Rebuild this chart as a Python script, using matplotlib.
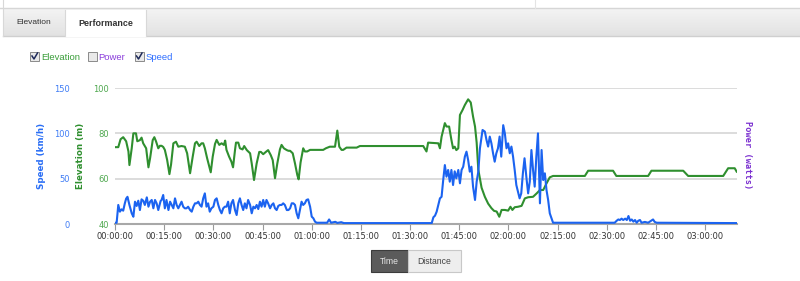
import numpy as np
import matplotlib
matplotlib.use("Agg")
import matplotlib.pyplot as plt
from matplotlib.patches import Rectangle
from matplotlib.lines import Line2D

# elevation track (minutes from start, metres)
elev_t = [0.0, 1.0, 1.7, 2.5, 3.4, 4.1, 4.4, 5.1, 5.6, 6.4,
          6.8, 7.6, 8.1, 8.6, 9.5, 10.2, 10.7, 11.5, 12.0, 12.5,
          13.2, 13.7, 14.2, 14.7, 15.2, 15.9, 16.6, 17.1, 17.8, 18.6,
          19.3, 20.3, 21.3, 22.0, 22.9, 23.7, 24.4, 24.9, 25.7, 26.4,
          26.9, 27.4, 28.1, 29.2, 29.8, 30.5, 31.0, 31.8, 32.5, 33.2,
          33.6, 34.0, 34.8, 35.5, 36.0, 36.6, 36.9, 37.6, 38.1, 38.9,
          39.4, 40.2, 41.2, 41.7, 42.4, 43.2, 44.0, 44.5, 45.2, 46.0,
          46.7, 47.5, 48.1, 48.8, 49.5, 50.3, 50.8, 51.5, 52.4, 52.9,
          53.4, 54.2, 54.9, 55.6, 56.0, 56.6, 57.4, 57.9, 58.6, 59.5,
          60.5, 63.5, 64.3, 65.5, 67.1, 67.8, 68.4, 69.1, 69.6, 70.6,
          73.7, 74.7, 94.0, 95.0, 95.5, 98.6, 99.1, 99.6, 100.6, 101.1,
          101.9, 102.6, 103.1, 103.6, 104.1, 104.7, 105.2, 106.0, 106.7, 107.7,
          108.5, 109.2, 109.8, 110.3, 110.8, 111.8, 112.8, 113.8, 114.8, 115.6,
          116.4, 117.2, 117.9, 118.9, 119.9, 120.6, 121.2, 121.9, 122.9, 124.0,
          125.0, 126.0, 127.5, 128.6, 129.6, 130.6, 131.6, 132.6, 133.6, 143.3,
          144.3, 151.9, 152.9, 162.6, 163.6, 173.3, 174.8, 185.5, 186.5, 187.0,
          189.0, 189.6]
elev_m = [73.9, 73.9, 77.4, 78.3, 76.5, 72.0, 66.0, 73.4, 80.0, 80.0,
          76.5, 77.0, 78.1, 75.6, 73.4, 65.0, 69.0, 77.0, 78.3, 76.5,
          73.4, 74.5, 74.5, 74.0, 72.7, 68.3, 62.0, 66.3, 75.6, 76.3,
          74.1, 74.4, 74.1, 71.2, 62.4, 69.7, 75.6, 76.3, 74.4, 75.6,
          75.6, 73.4, 69.0, 62.8, 69.7, 75.3, 77.1, 74.9, 75.6, 74.9,
          76.8, 72.7, 69.7, 67.5, 65.0, 72.6, 75.9, 75.9, 73.4, 72.9,
          74.4, 72.6, 71.2, 66.7, 59.4, 66.7, 71.8, 71.8, 70.8, 71.8,
          72.6, 70.4, 68.2, 60.2, 66.7, 72.9, 74.9, 73.4, 72.6, 72.3,
          72.3, 71.2, 66.7, 61.6, 59.7, 67.2, 73.4, 72.0, 72.0, 72.7,
          72.7, 72.7, 73.4, 74.1, 74.1, 81.2, 74.1, 72.7, 72.7, 73.7,
          73.7, 74.4, 74.4, 72.0, 75.9, 75.6, 73.4, 78.5, 84.5, 83.0,
          83.0, 77.1, 73.4, 74.1, 72.6, 73.4, 88.1, 90.3, 92.5, 95.0,
          93.6, 87.4, 83.0, 75.9, 64.0, 56.0, 52.0, 49.0, 47.0, 45.8,
          45.5, 43.2, 46.2, 46.2, 45.9, 47.6, 46.2, 47.4, 47.6, 48.0,
          51.3, 51.8, 52.0, 53.5, 55.0, 55.0, 57.9, 60.6, 61.2, 61.2,
          63.5, 63.5, 61.2, 61.2, 63.5, 63.5, 61.2, 61.2, 63.5, 64.6,
          64.6, 63.1]

# speed track (minutes from start, km/h)
speed_t = [0.0, 0.5, 1.0, 1.5, 2.0, 2.5, 3.0, 3.4, 3.8, 4.4,
           5.1, 5.6, 6.1, 6.6, 7.1, 7.6, 8.1, 8.6, 9.1, 9.7,
           10.2, 10.7, 11.2, 11.7, 12.2, 12.7, 13.2, 13.9, 14.2, 14.7,
           15.2, 15.7, 16.3, 16.8, 17.3, 17.8, 18.3, 18.8, 19.3, 19.8,
           20.3, 20.8, 21.3, 21.8, 22.3, 22.9, 23.4, 23.9, 24.4, 24.9,
           25.4, 25.9, 26.4, 26.9, 27.4, 27.9, 28.4, 28.9, 29.4, 30.0,
           30.5, 31.0, 31.5, 32.0, 32.5, 33.0, 33.5, 34.0, 34.5, 35.0,
           35.5, 36.0, 36.6, 37.1, 37.6, 38.1, 38.6, 39.1, 39.6, 40.1,
           40.6, 41.2, 41.7, 42.2, 42.7, 43.2, 43.7, 44.2, 44.7, 45.2,
           45.7, 46.2, 46.7, 47.3, 47.8, 48.3, 48.8, 49.3, 49.8, 50.3,
           50.8, 51.3, 51.8, 52.4, 52.9, 53.4, 53.9, 54.4, 54.9, 55.4,
           55.9, 56.4, 56.9, 57.4, 57.9, 58.4, 58.9, 59.5, 60.0, 60.5,
           61.0, 61.5, 64.7, 65.3, 65.9, 67.2, 67.8, 69.0, 69.8, 96.6,
           97.1, 97.6, 98.1, 98.6, 99.1, 99.6, 100.1, 100.6, 101.1, 101.6,
           102.1, 102.6, 103.1, 103.6, 104.1, 104.7, 105.2, 105.7, 106.2, 106.7,
           107.2, 107.7, 108.2, 108.7, 109.2, 109.8, 110.3, 110.8, 111.3, 112.1,
           112.8, 113.3, 113.8, 114.3, 114.8, 115.3, 115.8, 116.3, 116.8, 117.3,
           117.8, 118.4, 118.9, 119.4, 119.9, 120.4, 120.9, 121.4, 121.9, 122.4,
           122.9, 123.4, 123.9, 124.4, 124.9, 125.5, 126.0, 126.5, 127.0, 127.5,
           128.0, 128.5, 129.0, 129.6, 130.1, 130.6, 131.1, 131.6, 132.1, 132.6,
           133.6, 152.4, 153.0, 153.5, 154.0, 154.5, 155.0, 155.6, 156.1, 156.6,
           157.1, 157.6, 158.1, 158.6, 159.1, 159.6, 160.1, 160.6, 161.6, 162.6,
           164.1, 164.6, 165.2, 189.6]
speed_kmh = [1.4, 1.4, 21.0, 13.6, 16.2, 14.7, 22.8, 28.0, 30.0, 21.0,
             11.8, 8.0, 24.6, 19.9, 25.7, 15.4, 27.2, 25.7, 21.0, 29.4,
             19.1, 24.6, 26.5, 17.3, 26.5, 22.8, 15.4, 25.3, 26.5, 32.0,
             17.3, 26.5, 15.4, 24.6, 21.0, 17.3, 28.3, 21.0, 17.3, 21.0,
             24.6, 19.1, 17.3, 17.3, 19.1, 15.4, 13.6, 19.1, 22.8, 22.8,
             24.6, 21.0, 19.1, 28.3, 33.8, 19.1, 22.8, 13.6, 17.3, 19.1,
             26.5, 28.3, 21.0, 15.4, 11.8, 17.3, 19.1, 19.1, 24.6, 11.8,
             22.8, 26.5, 15.4, 9.9, 22.8, 28.3, 21.0, 15.4, 22.8, 17.3,
             26.5, 21.0, 11.8, 19.1, 17.3, 21.0, 16.5, 24.6, 19.1, 26.5,
             19.1, 26.5, 22.8, 17.3, 21.0, 22.8, 17.3, 15.4, 19.9, 21.0,
             21.0, 22.8, 21.0, 15.4, 15.4, 17.3, 22.8, 22.8, 21.0, 11.8,
             6.3, 15.4, 24.6, 21.0, 22.8, 26.5, 27.2, 19.1, 8.1, 6.3,
             2.6, 1.4, 1.4, 5.0, 1.4, 2.4, 1.2, 2.0, 1.0, 1.0,
             7.4, 9.2, 13.6, 21.0, 28.3, 30.0, 48.5, 65.0, 52.2, 59.6,
             46.7, 59.6, 43.0, 58.1, 50.4, 59.6, 44.9, 59.6, 63.2, 74.3,
             79.8, 70.6, 57.7, 63.2, 41.2, 26.5, 46.7, 57.7, 83.5, 103.7,
             101.9, 92.7, 85.4, 96.4, 89.0, 78.0, 68.7, 78.0, 83.5, 96.4,
             74.3, 109.0, 99.9, 83.5, 89.0, 78.0, 85.4, 74.3, 59.6, 43.0,
             35.6, 28.3, 33.8, 55.9, 72.5, 50.4, 33.8, 46.7, 81.6, 59.6,
             41.2, 74.3, 100.0, 22.8, 81.6, 48.5, 55.9, 37.5, 26.5, 11.8,
             1.4, 1.4, 3.6, 5.0, 4.4, 5.9, 4.4, 5.9, 4.4, 8.8,
             3.6, 5.0, 2.6, 4.4, 1.4, 3.6, 4.4, 1.4, 2.3, 1.4,
             5.0, 2.3, 1.4, 1.0]

tick_minutes = [0, 15, 30, 45, 60, 75, 90, 105, 120, 135, 150, 165, 180]
elev_ticks = [40, 60, 80, 100]
speed_ticks = [0, 50, 100, 150]

GREEN = "#2f8f2f"
BLUE = "#1b63f0"
PURPLE = "#7a2fd0"

W, H = 800, 281
plt.rcParams["font.family"] = "DejaVu Sans"
fig = plt.figure(figsize=(W / 100, H / 100), dpi=100)


def fx(x):
    return x / W


def fy(y):
    return 1 - y / H


def rect(x0, y0, x1, y1, **kw):
    fig.add_artist(Rectangle((fx(x0), fy(y1)), (x1 - x0) / W, (y1 - y0) / H,
                             transform=fig.transFigure, **kw))


def hline(x0, x1, y, **kw):
    fig.add_artist(Line2D([fx(x0), fx(x1)], [fy(y), fy(y)], transform=fig.transFigure, **kw))


def vline(x, y0, y1, **kw):
    fig.add_artist(Line2D([fx(x), fx(x)], [fy(y0), fy(y1)], transform=fig.transFigure, **kw))


# --- tab bar ---
bar = fig.add_axes([fx(3), fy(36), (W - 3) / W, 28 / H])
grad = np.linspace(0, 1, 50).reshape(-1, 1)
bar.imshow(grad, cmap=matplotlib.colors.LinearSegmentedColormap.from_list("g", ["#f4f4f4", "#e2e2e2"]),
           aspect="auto", extent=[0, 1, 0, 1], origin="upper")
bar.set_axis_off()
hline(0, W, 8.3, color="#d6d6d6", lw=1)
hline(3, W, 36, color="#cfcfcf", lw=1)
vline(3.3, 0, 36, color="#d8d8d8", lw=0.8)
vline(535, 0, 8, color="#e4e4e4", lw=0.8)
rect(65, 10, 146, 36.5, facecolor="white", edgecolor="none", zorder=5)
vline(65, 10, 36, color="#d8d8d8", lw=0.8, zorder=6)
vline(146, 10, 36, color="#d8d8d8", lw=0.8, zorder=6)
fig.text(fx(34), fy(23), "Elevation", fontsize=6.0, family="Liberation Sans", color="#333",
         ha="center", va="center")
fig.text(fx(105.5), fy(23), "Performance", fontsize=6.4, family="Liberation Sans", weight="bold",
         color="#333", ha="center", va="center", zorder=7)

# --- checkboxes ---
for bx, label, col, checked in [(30, "Elevation", "#3a9e3a", True),
                                 (87.5, "Power", "#8a3ddb", False),
                                 (134.5, "Speed", "#2f6fff", True)]:
    rect(bx, 52, bx + 9, 61, facecolor="#e9e9e9", edgecolor="#8a8a8a", lw=0.7)
    if checked:
        fig.add_artist(Line2D([fx(bx + 2), fx(bx + 4), fx(bx + 7.5)],
                              [fy(56), fy(59), fy(53)], transform=fig.transFigure,
                              color="#1e2a5a", lw=1.1))
    fig.text(fx(bx + 11), fy(57), label, fontsize=6.8, family="Liberation Sans", color=col,
             ha="left", va="center")

# --- chart ---
ax = fig.add_axes([fx(115), fy(224), (737 - 115) / W, (224 - 88) / H])
ax.set_xlim(0, 189.7)
ax.set_ylim(40, 100)
ax.set_yticks(elev_ticks)
ax.grid(axis="y", color="#d9d9d9", lw=1.3)
ax.set_axisbelow(True)
ax.set_xticks(tick_minutes)
ax.set_xticklabels([f"{m // 60:02d}:{m % 60:02d}:00" for m in tick_minutes])
for s in ["top", "left", "right"]:
    ax.spines[s].set_visible(False)
ax.spines["bottom"].set_color("#a8a8a8")
ax.spines["bottom"].set_linewidth(1.5)
ax.tick_params(axis="y", length=0, pad=4.3, labelsize=6, labelcolor="#4fa84f")
ax.tick_params(axis="x", length=4, width=0.8, color="#999999", pad=2, labelsize=6,
               labelcolor="#333333")
ax.plot(elev_t, elev_m, color=GREEN, lw=1.5, zorder=3)

ax2 = ax.twinx()
ax2.set_ylim(0, 150)
ax2.set_yticks(speed_ticks)
ax2.yaxis.tick_left()
ax2.spines["left"].set_position(("outward", 28.5))
for s in ax2.spines.values():
    s.set_visible(False)
ax2.tick_params(axis="y", length=0, pad=4.3, labelsize=6, labelcolor="#3f7cf5")
ax2.plot(speed_t, speed_kmh, color=BLUE, lw=1.5, zorder=4)

fig.text(fx(41), fy(155.5), "Speed (km/h)", rotation=90, fontsize=6.3, weight="bold",
         color="#2a6ef5", ha="center", va="center")
fig.text(fx(81), fy(156), "Elevation (m)", rotation=90, fontsize=6.3, weight="bold",
         color=GREEN, ha="center", va="center")
fig.text(fx(747), fy(155), "Power (watts)", rotation=270, fontsize=6.2, weight="bold",
         family="DejaVu Sans Mono", color=PURPLE, ha="center", va="center")

# --- time / distance buttons ---
rect(371, 250, 408, 271.5, facecolor="#5b5b5b", edgecolor="#3c3c3c", lw=0.8)
rect(408, 250, 461, 271.5, facecolor="#eeeeee", edgecolor="#c8c8c8", lw=0.8)
fig.text(fx(389.5), fy(261), "Time", fontsize=6.2, family="Liberation Sans", color="#e6e6e6",
         ha="center", va="center")
fig.text(fx(434.5), fy(261), "Distance", fontsize=6.2, family="Liberation Sans", color="#444",
         ha="center", va="center")

fig.savefig("out.png", dpi=100)
